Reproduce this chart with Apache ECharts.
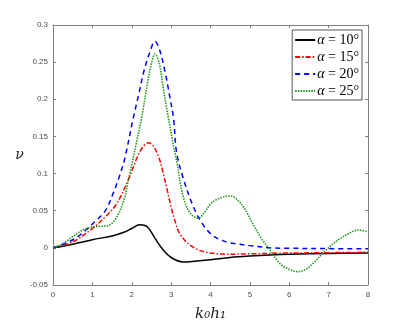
<!DOCTYPE html>
<html>
<head>
<meta charset="utf-8">
<script src="https://cdn.jsdelivr.net/npm/echarts@6/dist/echarts.min.js"></script>
<style>
html, body { margin: 0; padding: 0; background: #fff; }
#chart { width: 407px; height: 327px; }
</style>
</head>
<body>
<div id="chart"></div>
<script>
// values
const xTicks = [0, 1, 2, 3, 4, 5, 6, 7, 8]
const yTicks = [-0.05, 0, 0.05, 0.1, 0.15, 0.2, 0.25, 0.3]

const k10 = [0, 0.5, 1, 1.5, 1.8, 2.0, 2.2, 2.4, 2.6, 2.8, 3.0, 3.3, 3.6, 4, 4.5, 5, 5.5, 6, 7, 8]
const v10 = [0, 0.005, 0.011, 0.016, 0.021, 0.026, 0.031, 0.028, 0.012, -0.003, -0.013, -0.019, -0.018, -0.016, -0.013, -0.011, -0.0095, -0.0085, -0.0075, -0.007]

const k15 = [0, 0.5, 1, 1.33, 1.6, 1.9, 2.14, 2.3, 2.43, 2.55, 2.7, 2.8, 2.9, 3.0, 3.1, 3.2, 3.35, 3.5, 3.7, 4, 4.5, 5, 6, 7, 8]
const v15 = [0, 0.008, 0.026, 0.042, 0.058, 0.09, 0.122, 0.137, 0.1415, 0.137, 0.120, 0.100, 0.078, 0.055, 0.036, 0.021, 0.010, 0.003, -0.003, -0.007, -0.0085, -0.008, -0.007, -0.0065, -0.006]

const k20 = [0, 0.35, 0.6, 0.86, 1.1, 1.33, 1.54, 1.71, 1.83, 2.04, 2.2, 2.3, 2.45, 2.59, 2.7, 2.85, 2.96, 3.06, 3.14, 3.3, 3.56, 3.8, 4.07, 4.4, 4.66, 5, 5.5, 6, 7, 8]
const v20 = [0, 0.007, 0.014, 0.025, 0.037, 0.050, 0.075, 0.100, 0.122, 0.175, 0.212, 0.236, 0.262, 0.278, 0.268, 0.236, 0.205, 0.175, 0.128, 0.095, 0.056, 0.032, 0.016, 0.008, 0.0053, 0.003, 0.0, -0.0005, -0.001, -0.0013]

const k25 = [0, 0.2, 0.4, 0.6, 0.8, 1.0, 1.2, 1.4, 1.6, 1.8, 1.9, 2.0, 2.1, 2.25, 2.4, 2.5, 2.59, 2.7, 2.8, 2.93, 3.05, 3.14, 3.3, 3.48, 3.69, 3.85, 4.0, 4.2, 4.49, 4.7, 4.92, 5.1, 5.3, 5.5, 5.76, 6.0, 6.23, 6.45, 6.6, 6.86, 7.1, 7.28, 7.5, 7.75, 8]
const v25 = [0, 0.004, 0.011, 0.019, 0.025, 0.028, 0.029, 0.030, 0.040, 0.064, 0.088, 0.112, 0.137, 0.175, 0.222, 0.248, 0.261, 0.248, 0.215, 0.175, 0.140, 0.117, 0.070, 0.047, 0.040, 0.048, 0.059, 0.066, 0.070, 0.064, 0.048, 0.030, 0.012, -0.002, -0.021, -0.029, -0.032, -0.028, -0.021, -0.007, 0.005, 0.012, 0.019, 0.024, 0.0215]

const names = ['10', '15', '20', '25']

function pairs (ks, vs) {
  return ks.map((k, i) => [k, vs[i]])
}

const chart = echarts.init(document.getElementById('chart'))

const axisGray = '#7f7f7f'
const labelColor = '#4d4d4d'

const option = {
  backgroundColor: '#fff',
  animation: false,
  grid: { left: 53, right: 39, top: 25, bottom: 37 },
  legend: {
    orient: 'vertical',
    right: 45,
    top: 30,
    padding: [3, 3, 2, 2],
    itemGap: 3,
    itemWidth: 20,
    itemHeight: 13,
    borderColor: '#555',
    borderWidth: 1,
    backgroundColor: '#fff',
    itemStyle: { opacity: 0 },
    formatter: function (name) {
      return '{i|α} = ' + name + '°'
    },
    textStyle: {
      fontFamily: 'Liberation Serif',
      fontSize: 14,
      color: '#000',
      padding: [0, 0, 0, -3],
      rich: {
        i: { fontFamily: 'Liberation Serif', fontStyle: 'italic', fontSize: 14, color: '#000' }
      }
    },
    data: names
  },
  xAxis: [{
    type: 'value',
    min: 0,
    max: 8,
    interval: 1,
    name: 'k₀h₁',
    nameLocation: 'middle',
    nameGap: 22,
    nameTextStyle: { fontFamily: 'DejaVu Serif', fontStyle: 'italic', fontSize: 15, color: '#222' },
    axisLine: { onZero: false, lineStyle: { color: axisGray, width: 1 } },
    axisTick: { inside: true, length: 3, lineStyle: { color: axisGray } },
    axisLabel: { color: labelColor, fontSize: 8, fontFamily: 'Liberation Sans', margin: 6 },
    splitLine: { show: false }
  }, {
    type: 'value',
    position: 'top',
    min: 0,
    max: 8,
    interval: 1,
    axisLine: { onZero: false, lineStyle: { color: axisGray, width: 1 } },
    axisTick: { inside: true, length: 3, lineStyle: { color: axisGray } },
    axisLabel: { show: false },
    splitLine: { show: false }
  }],
  yAxis: [{
    type: 'value',
    min: -0.05,
    max: 0.3,
    interval: 0.05,
    name: 'ν',
    nameLocation: 'middle',
    nameGap: 28,
    nameRotate: 0,
    nameTextStyle: { fontFamily: 'DejaVu Serif', fontStyle: 'italic', fontSize: 14, color: '#222' },
    axisLine: { show: true, onZero: false, lineStyle: { color: axisGray, width: 1 } },
    axisTick: { show: true, inside: true, length: 3, lineStyle: { color: axisGray } },
    axisLabel: {
      color: labelColor,
      fontSize: 8,
      fontFamily: 'Liberation Sans',
      margin: 5,
      formatter: function (v) { return String(Math.round(v * 100) / 100) }
    },
    splitLine: { show: false }
  }, {
    type: 'value',
    position: 'right',
    min: -0.05,
    max: 0.3,
    interval: 0.05,
    axisLine: { show: true, onZero: false, lineStyle: { color: axisGray, width: 1 } },
    axisTick: { show: true, inside: true, length: 3, lineStyle: { color: axisGray } },
    axisLabel: { show: false },
    splitLine: { show: false }
  }],
  series: [
    {
      name: '10',
      type: 'line',
      symbol: 'none',
      smooth: 0.35,
      data: pairs(k10, v10),
      itemStyle: { color: '#000' },
      lineStyle: { color: '#000', width: 1.5, type: 'solid' }
    },
    {
      name: '15',
      type: 'line',
      symbol: 'none',
      smooth: 0.35,
      data: pairs(k15, v15),
      itemStyle: { color: '#ff0000' },
      lineStyle: { color: '#ff0000', width: 1.5, type: [5, 2, 1.5, 2] }
    },
    {
      name: '20',
      type: 'line',
      symbol: 'none',
      smooth: 0.35,
      data: pairs(k20, v20),
      itemStyle: { color: '#0000ff' },
      lineStyle: { color: '#0000ff', width: 1.5, type: [5, 4] }
    },
    {
      name: '25',
      type: 'line',
      symbol: 'none',
      smooth: 0.35,
      data: pairs(k25, v25),
      itemStyle: { color: '#1f9a1f' },
      lineStyle: { color: '#1f9a1f', width: 1.6, type: [1.5, 1.2] }
    }
  ]
}

chart.setOption(option)
</script>
</body>
</html>
